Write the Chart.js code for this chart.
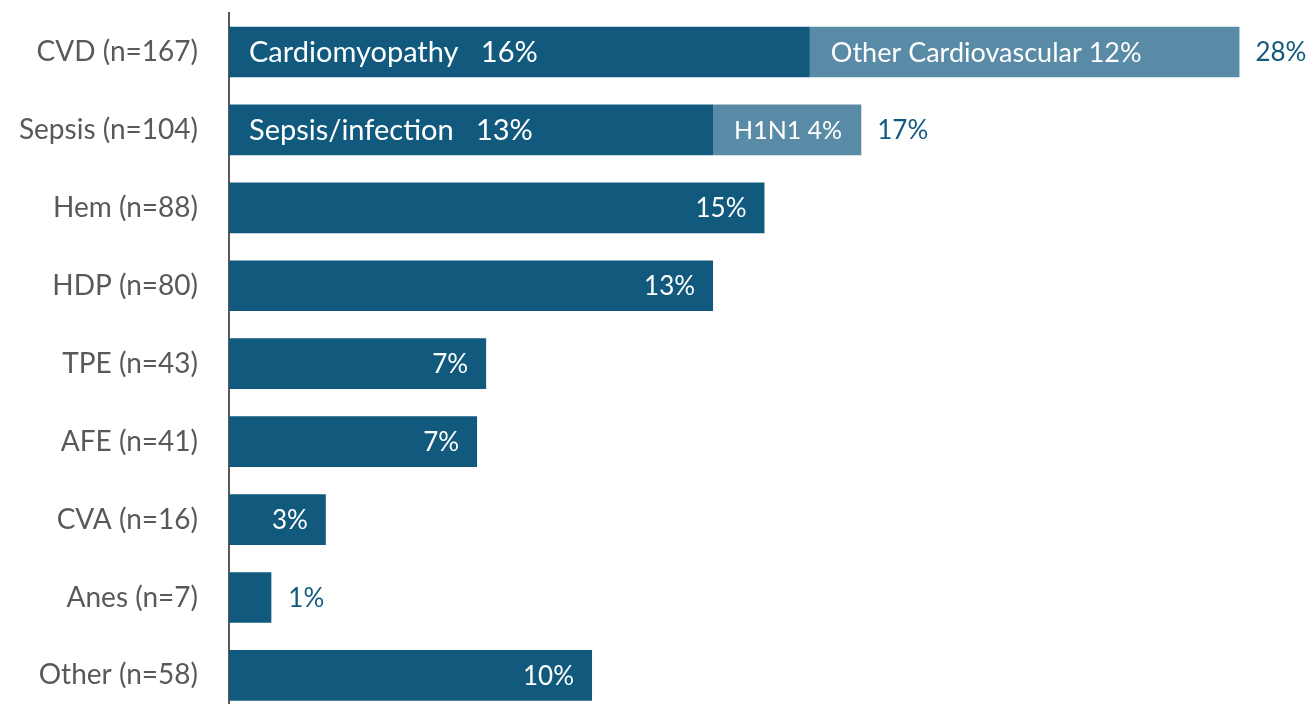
<!DOCTYPE html>
<html>
<head>
<meta charset="utf-8">
<script src="https://cdn.jsdelivr.net/npm/chart.js@4"></script>
<style>
  html, body { margin: 0; padding: 0; background: #fff; overflow: hidden; }
  #wrap { width: 1306px; height: 727px; }
</style>
</head>
<body>
<div id="wrap"><canvas id="myChart"></canvas></div>
<script>
let categories = ["CVD (n=167)", "Sepsis (n=104)", "Hem (n=88)", "HDP (n=80)", "TPE (n=43)", "AFE (n=41)", "CVA (n=16)", "Anes (n=7)", "Other (n=58)"];
// bar lengths, main part and sub-cause part
let mainCounts = [96, 80, 88.5, 80, 42.5, 41, 16, 7, 60];
let subCounts = [71, 24.5, null, null, null, null, null, null, null];
let mainNames = ["Cardiomyopathy   16%", "Sepsis/infection   13%", "", "", "", "", "", "", ""];
let subNames = ["Other Cardiovascular 12%", "H1N1 4%", "", "", "", "", "", "", ""];
let totalPct = ["28%", "17%", "15%", "13%", "7%", "7%", "3%", "1%", "10%"];

let DARK = "#115a7e";
let LIGHT = "#5a8ba6";
let FONT = "Lato, 'Open Sans', sans-serif";

const barLabels = {
    id: "barLabels",
    afterDatasetsDraw(chart) {
        let ctx = chart.ctx;
        let m0 = chart.getDatasetMeta(0);
        let m1 = chart.getDatasetMeta(1);
        ctx.save();
        ctx.textBaseline = "middle";
        for (let i = 0; i < categories.length; i++) {
            let b0 = m0.data[i];
            let b1 = m1.data[i];
            let end = b0.x;
            if (subCounts[i] != null) end = b1.x;
            if (mainNames[i] != "") {
                ctx.fillStyle = "#fff";
                ctx.font = "29px " + FONT;
                ctx.textAlign = "left";
                ctx.fillText(mainNames[i], b0.base + 20, b0.y + 1);
                ctx.font = (i == 0 ? "27px " : "25px ") + FONT;
                ctx.fillText(subNames[i], b1.base + 21, b1.y + 1);
                ctx.fillStyle = DARK;
                ctx.font = "26px " + FONT;
                ctx.fillText(totalPct[i], end + 16, b0.y + 1);
            } else if (end - b0.base > 70) {
                ctx.fillStyle = "#fff";
                ctx.font = "26px " + FONT;
                ctx.textAlign = "right";
                ctx.fillText(totalPct[i], end - 18, b0.y + 1);
            } else {
                ctx.fillStyle = DARK;
                ctx.font = "26px " + FONT;
                ctx.textAlign = "left";
                ctx.fillText(totalPct[i], end + 17, b0.y + 1);
            }
        }
        ctx.restore();
    }
};

const ctx = document.getElementById("myChart").getContext("2d");
const myChart = new Chart(ctx, {
    type: "bar",
    data: {
        labels: categories,
        datasets: [{
            data: mainCounts,
            backgroundColor: DARK,
            barPercentage: 0.65,
            categoryPercentage: 1
        }, {
            data: subCounts,
            backgroundColor: LIGHT,
            barPercentage: 0.65,
            categoryPercentage: 1
        }]
    },
    options: {
        indexAxis: "y",
        responsive: true,
        maintainAspectRatio: false,
        animation: false,
        layout: { padding: { top: 13, right: 0, bottom: 0, left: 0 } },
        plugins: { legend: { display: false }, tooltip: { enabled: false } },
        scales: {
            x: {
                stacked: true,
                display: false,
                min: 0,
                max: 178
            },
            y: {
                stacked: true,
                grid: { display: false, drawTicks: true, tickLength: 31 },
                border: { display: true, color: "#595959", width: 2 },
                ticks: {
                    color: "#595959",
                    font: { family: FONT, size: 28, lineHeight: 0.9 },
                    padding: 0
                },
                afterFit(scale) { scale.width = 229; }
            }
        }
    },
    plugins: [barLabels]
});
</script>
</body>
</html>
